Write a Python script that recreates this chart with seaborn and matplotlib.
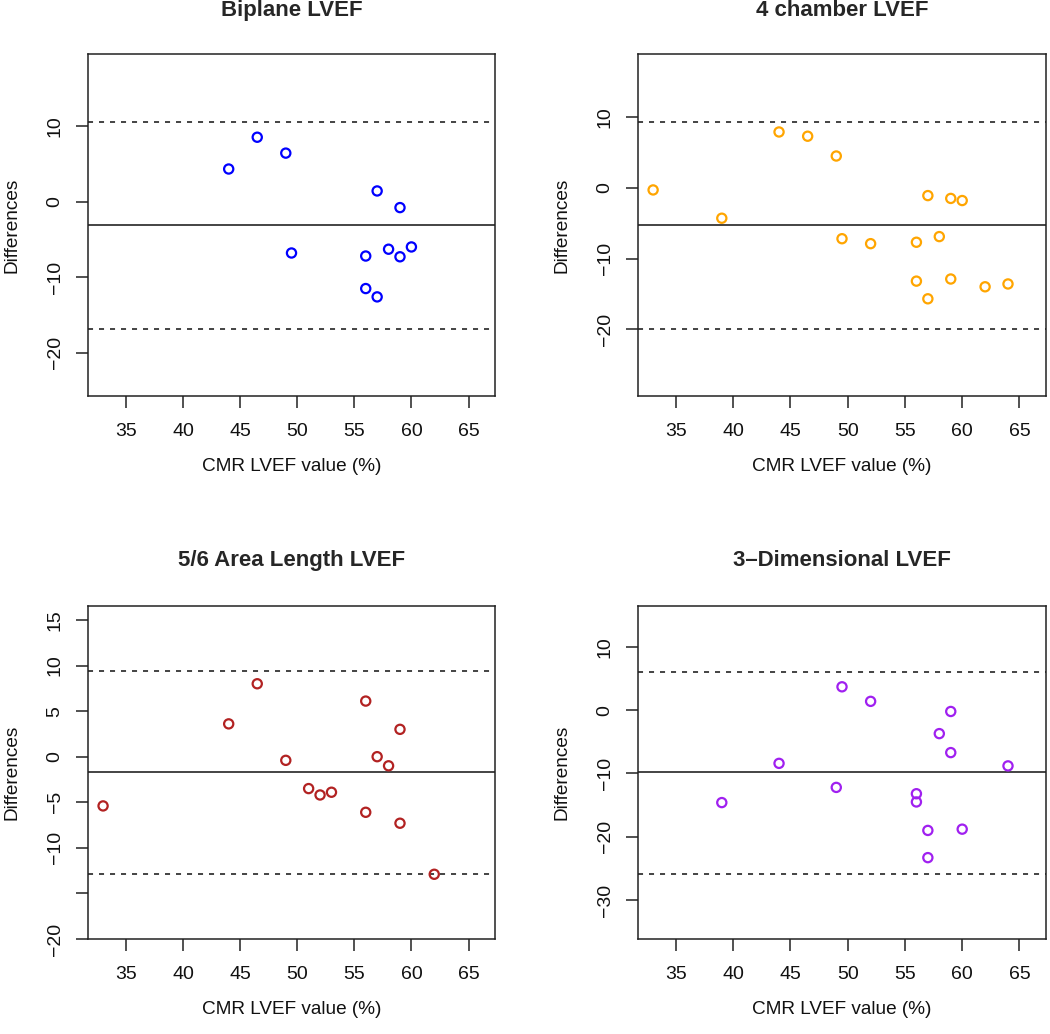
import matplotlib
matplotlib.use("Agg")
import matplotlib.pyplot as plt
import seaborn as sns
import pandas as pd

# ---------------- data ----------------
titles = ["Biplane LVEF", "4 chamber LVEF", "5/6 Area Length LVEF", "3\u2013Dimensional LVEF"]
colors = ["#0000FF", "#FFA500", "#B22222", "#A020F0"]

biplane_x = [44, 46.5, 49, 57, 59, 49.5, 56, 58, 59, 60, 56, 57]
biplane_d = [4.3, 8.5, 6.4, 1.4, -0.8, -6.8, -7.2, -6.3, -7.3, -6.0, -11.5, -12.6]

four_x = [33, 39, 44, 46.5, 49, 57, 59, 60, 49.5, 52, 56, 58, 56, 59, 57, 62, 64]
four_d = [-0.3, -4.3, 7.9, 7.3, 4.5, -1.1, -1.5, -1.8, -7.2, -7.9, -7.7, -6.9,
          -13.2, -12.9, -15.7, -14.0, -13.6]

area_x = [33, 44, 46.5, 49, 51, 52, 53, 56, 56, 57, 58, 59, 59, 62]
area_d = [-5.4, 3.6, 8.0, -0.4, -3.5, -4.2, -3.9, 6.1, -6.1, 0.0, -1.0, 3.0, -7.3, -12.9]

three_x = [39, 44, 49, 49.5, 52, 56, 56, 57, 57, 58, 59, 59, 60, 64]
three_d = [-14.6, -8.4, -12.2, 3.7, 1.4, -13.2, -14.5, -19.0, -23.3, -3.7, -0.2, -6.7, -18.8, -8.8]

mean_diff = [-3.12, -5.2, -1.72, -9.8]
upper_loa = [10.53, 9.34, 9.35, 6.05]
lower_loa = [-16.79, -19.95, -12.86, -25.95]

y_limits = [(-25.7, 19.5), (-29.45, 18.93), (-20.0, 16.53), (-36.16, 16.47)]
y_ticks = [[-20, -10, 0, 10], [-20, -10, 0, 10],
           [-20, -15, -10, -5, 0, 5, 10, 15], [-30, -20, -10, 0, 10]]
y_ticklabels = [["\u221220", "\u221210", "0", "10"], ["\u221220", "\u221210", "0", "10"],
                ["\u221220", "", "\u221210", "\u22125", "0", "5", "10", "15"],
                ["\u221230", "\u221220", "\u221210", "0", "10"]]
x_ticks = [35, 40, 45, 50, 55, 60, 65]
x_limits = (31.68, 67.32)

xs = [biplane_x, four_x, area_x, three_x]
ds = [biplane_d, four_d, area_d, three_d]

# ---------------- style ----------------
sns.set_style("ticks")
plt.rcParams["font.family"] = ["Liberation Sans", "DejaVu Sans"]
plt.rcParams["axes.linewidth"] = 1.0

W, H = 1050, 1034
fig = plt.figure(figsize=(W / 100, H / 100), dpi=100)

# axes boxes in pixels: (left, top, right, bottom)
boxes = [(88, 54, 495, 396), (638, 54, 1046, 396),
         (88, 606, 495, 939), (638, 606, 1046, 939)]

for i in range(4):
    l, t, r, b = boxes[i]
    ax = fig.add_axes([l / W, 1 - b / H, (r - l) / W, (b - t) / H])
    df = pd.DataFrame({"x": xs[i], "d": ds[i]})
    sns.scatterplot(data=df, x="x", y="d", ax=ax, color=colors[i],
                    facecolor="none", edgecolor=colors[i], linewidth=1.6,
                    s=44, marker="o", zorder=3)
    ax.axhline(mean_diff[i], color="#111111", lw=1.1)
    ax.axhline(upper_loa[i], color="#111111", lw=1.1, ls=(0, (3.3, 3.9)))
    ax.axhline(lower_loa[i], color="#111111", lw=1.1, ls=(0, (3.3, 3.9)))

    ax.set_xlim(*x_limits)
    ax.set_ylim(*y_limits[i])
    ax.set_xticks(x_ticks)
    ax.set_xticklabels([str(v) for v in x_ticks])
    ax.set_yticks(y_ticks[i])
    ax.set_yticklabels(y_ticklabels[i], rotation=90, va="center")
    ax.tick_params(axis="both", direction="out", length=8.6, width=1.1,
                   color="#222222", labelsize=14, labelcolor="#111111")
    ax.tick_params(axis="x", pad=11)
    ax.tick_params(axis="y", pad=9)
    for sp in ax.spines.values():
        sp.set_visible(True)
        sp.set_color("#222222")
        sp.set_linewidth(1.1)

    ax.set_xlabel("CMR LVEF value (%)", fontsize=13.7, labelpad=13, color="#111111")
    ax.set_ylabel("Differences", fontsize=13.7, labelpad=19, color="#111111")
    pad_pts = 27 if i < 2 else 29
    ax.set_title(titles[i], fontsize=16, fontweight="bold", pad=pad_pts)

fig.savefig("out.png", dpi=100)
